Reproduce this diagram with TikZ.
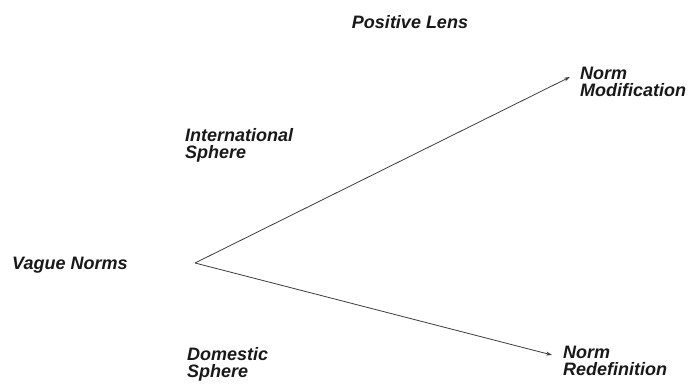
\documentclass[tikz,border=0pt]{standalone}
\usepackage{fontspec}
\setmainfont{Liberation Sans}
\usepackage{xcolor}
\usepackage{tikz}
\usetikzlibrary{arrows.meta, positioning}
\definecolor{lineGray}{RGB}{60, 60, 60}
\definecolor{textDark}{RGB}{25, 25, 25}
\tikzset{
  lbl/.style={font=\fontsize{18}{17}\selectfont\bfseries\itshape, text=textDark, inner sep=0pt, align=left},
  arr/.style={-{Stealth[length=6pt, width=4pt]}, lineGray, line width=0.8pt}
}

\begin{document}
\begin{tikzpicture}[x=1pt, y=1pt]

\useasboundingbox (0, 0) rectangle (693, 383);

% Labels
\node[lbl, anchor=west]       (vague) at (12, 118)  {Vague Norms};
\node[lbl, anchor=north]      (lens)  at (410, 368) {Positive Lens};
\node[lbl, anchor=north west] (intl)  at (185, 255) {International\\Sphere};
\node[lbl, anchor=north west] (dom)   at (187, 36)  {Domestic\\Sphere};
\node[lbl, anchor=north west] (mod)   at (580, 316) {Norm\\Modification};
\node[lbl, anchor=north west] (redef) at (563, 37)  {Norm\\Redefinition};

% Branch point and arrow tips
\coordinate (fork)   at (195, 120);
\coordinate (modtip) at (570, 306);
\coordinate (redtip) at (552, 28);

% Arrows
\draw[arr] (fork) -- (modtip);
\draw[arr] (fork) -- (redtip);

\end{tikzpicture}
\end{document}
